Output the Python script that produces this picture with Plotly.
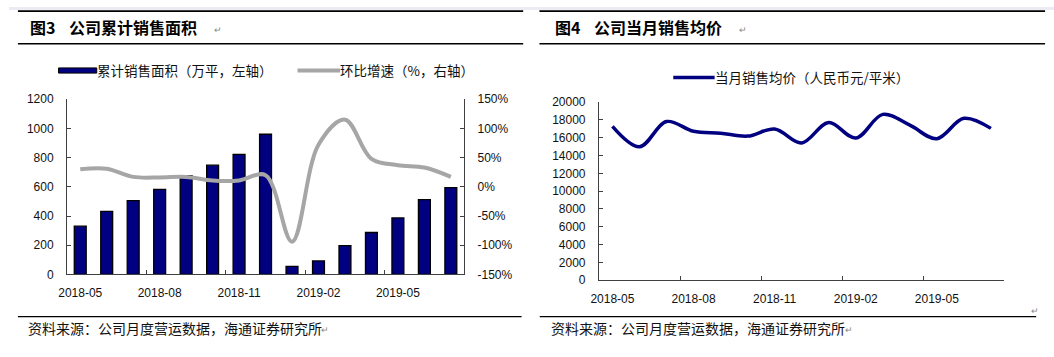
import plotly.graph_objects as go

months = ["2018-05", "2018-06", "2018-07", "2018-08", "2018-09", "2018-10", "2018-11",
          "2018-12", "2019-01", "2019-02", "2019-03", "2019-04", "2019-05", "2019-06", "2019-07"]
cum_area = [330, 432, 506, 582, 677, 748, 822, 960, 55, 92, 197, 287, 387, 512, 595]
mom_growth = [30, 31, 17, 16, 17, 11, 11, 20, -94, 72, 115, 48, 37, 33, 17]
avg_price = [17270, 14980, 17820, 16730, 16510, 16180, 16980, 15420, 17710, 15960,
             18620, 17420, 15890, 18180, 17050]

pct_ticks = [-150, -100, -50, 0, 50, 100, 150]
pct_labels = ["-150%", "-100%", "-50%", "0%", "50%", "100%", "150%"]

left_title_no = "图3"
left_title = "公司累计销售面积"
right_title_no = "图4"
right_title = "公司当月销售均价"
bar_name = "累计销售面积（万平，左轴）"
line_name = "环比增速（%，右轴）"
price_name = "当月销售均价（人民币元/平米）"
source = "资料来源：公司月度营运数据，海通证券研究所"

W, H = 1054, 357
NAVY = "#000080"
GRAY = "#A6A6A6"
AXC = "#404040"
TICKFONT = dict(family="Liberation Sans, Arial", size=12, color="#111111")
CJK = "Noto Sans CJK SC"


def px(x):
    return x / W


def py(y):
    return 1 - y / H


fig = go.Figure()
fig.add_trace(go.Bar(x=months, y=cum_area, name=bar_name, xaxis="x", yaxis="y",
                     marker=dict(color=NAVY, line=dict(color="#000000", width=1.3)),
                     showlegend=False))
fig.add_trace(go.Scatter(x=months, y=mom_growth, name=line_name, xaxis="x", yaxis="y2",
                         mode="lines", line=dict(color=GRAY, width=4, shape="spline", smoothing=1.0),
                         showlegend=False))
fig.add_trace(go.Scatter(x=months, y=avg_price, name=price_name, xaxis="x2", yaxis="y3",
                         mode="lines", line=dict(color=NAVY, width=3.5, shape="spline", smoothing=1.0),
                         showlegend=False))

xcommon = dict(type="category", range=[-0.5, 14.5], tickmode="linear", tick0=0, dtick=3,
               tickson="boundaries", ticks="inside", ticklen=4, tickcolor=AXC, tickangle=0,
               showline=True, linecolor=AXC, linewidth=1, showgrid=False, zeroline=False,
               tickfont=TICKFONT, ticklabelstandoff=7, fixedrange=True)
ycommon = dict(ticks="inside", ticklen=4, tickcolor=AXC, showline=True, linecolor=AXC,
               linewidth=1, showgrid=False, zeroline=False, tickfont=TICKFONT,
               ticklabelstandoff=10, fixedrange=True)

fig.update_layout(
    width=W, height=H,
    margin=dict(l=0, r=0, t=0, b=0),
    paper_bgcolor="white", plot_bgcolor="rgba(0,0,0,0)",
    bargap=0.55,
    xaxis=dict(domain=[px(58.5), px(459)], anchor="y", **xcommon),
    yaxis=dict(domain=[py(278.3), py(96)], anchor="x", range=[0, 1200], dtick=200, side="left",
               tickformat="d", **ycommon),
    yaxis2=dict(overlaying="y", anchor="x", side="right", range=[-150, 150],
                tickmode="array", tickvals=pct_ticks, ticktext=pct_labels, **ycommon),
    xaxis2=dict(domain=[px(595), px(1004)], anchor="y3", **xcommon),
    yaxis3=dict(domain=[py(284.3), py(99)], anchor="x2", range=[0, 20000], dtick=2000, side="left",
                tickformat="d", **ycommon),
)

shapes = []
# top band
shapes.append(dict(type="rect", xref="paper", yref="paper", x0=0, x1=1, y0=py(3), y1=1,
                   fillcolor="#EBEBF3", line=dict(width=0), layer="below"))
# header lines
for (a, b) in [(9, 518.6), (535, 1045)]:
    for yy in (4.3, 38.3):
        shapes.append(dict(type="line", xref="paper", yref="paper", x0=px(a), x1=px(b),
                           y0=py(yy), y1=py(yy), line=dict(color="#000000", width=1.6)))
# footer lines
for (a, b) in [(9, 517), (535.3, 1036)]:
    shapes.append(dict(type="line", xref="paper", yref="paper", x0=px(a), x1=px(b),
                       y0=py(322.3), y1=py(322.3), line=dict(color="#000000", width=1.2)))
# legend symbols
shapes.append(dict(type="rect", xref="paper", yref="paper", x0=px(50), x1=px(88.5),
                   y0=py(68.8), y1=py(63.4), fillcolor=NAVY, line=dict(color="#000000", width=1)))
shapes.append(dict(type="line", xref="paper", yref="paper", x0=px(291), x1=px(334),
                   y0=py(66.2), y1=py(66.2), line=dict(color=GRAY, width=4)))
shapes.append(dict(type="line", xref="paper", yref="paper", x0=px(670), x1=px(711.7),
                   y0=py(73.3), y1=py(73.3), line=dict(color=NAVY, width=3.5)))

annotations = []


def txt(x, y, s, size, color="#000000", bold=False, family=CJK, xanchor="left"):
    annotations.append(dict(xref="paper", yref="paper", x=px(x), y=py(y), text=("<b>%s</b>" % s) if bold else s,
                            showarrow=False, xanchor=xanchor, yanchor="middle",
                            font=dict(family=family, size=size, color=color)))


# titles
txt(19, 20.5, left_title_no, 16, bold=True)
txt(59, 20.5, left_title, 16, bold=True)
txt(548.5, 20.5, right_title_no, 16, bold=True)
txt(588.5, 20.5, right_title, 16, bold=True)
txt(205, 23, "↵", 9, color="#888888")
txt(734, 23, "↵", 9, color="#888888")
# legends
txt(87, 66, bar_name, 13.5, color="#111111")
txt(332, 66, line_name, 13.5, color="#111111")
txt(710, 73, price_name, 13.5, color="#111111")
# footers
txt(17, 334, source, 14, color="#111111")
txt(545, 334, source, 14, color="#111111")
txt(313, 335.5, "↵", 9, color="#888888")
txt(841, 335.5, "↵", 9, color="#888888")
txt(1029, 316, "↵", 9, color="#888888")

fig.update_layout(shapes=shapes, annotations=annotations)
fig.write_html("out.html", config={"displayModeBar": False},
               post_script="document.body.style.margin='0px';document.body.style.overflow='hidden';")
